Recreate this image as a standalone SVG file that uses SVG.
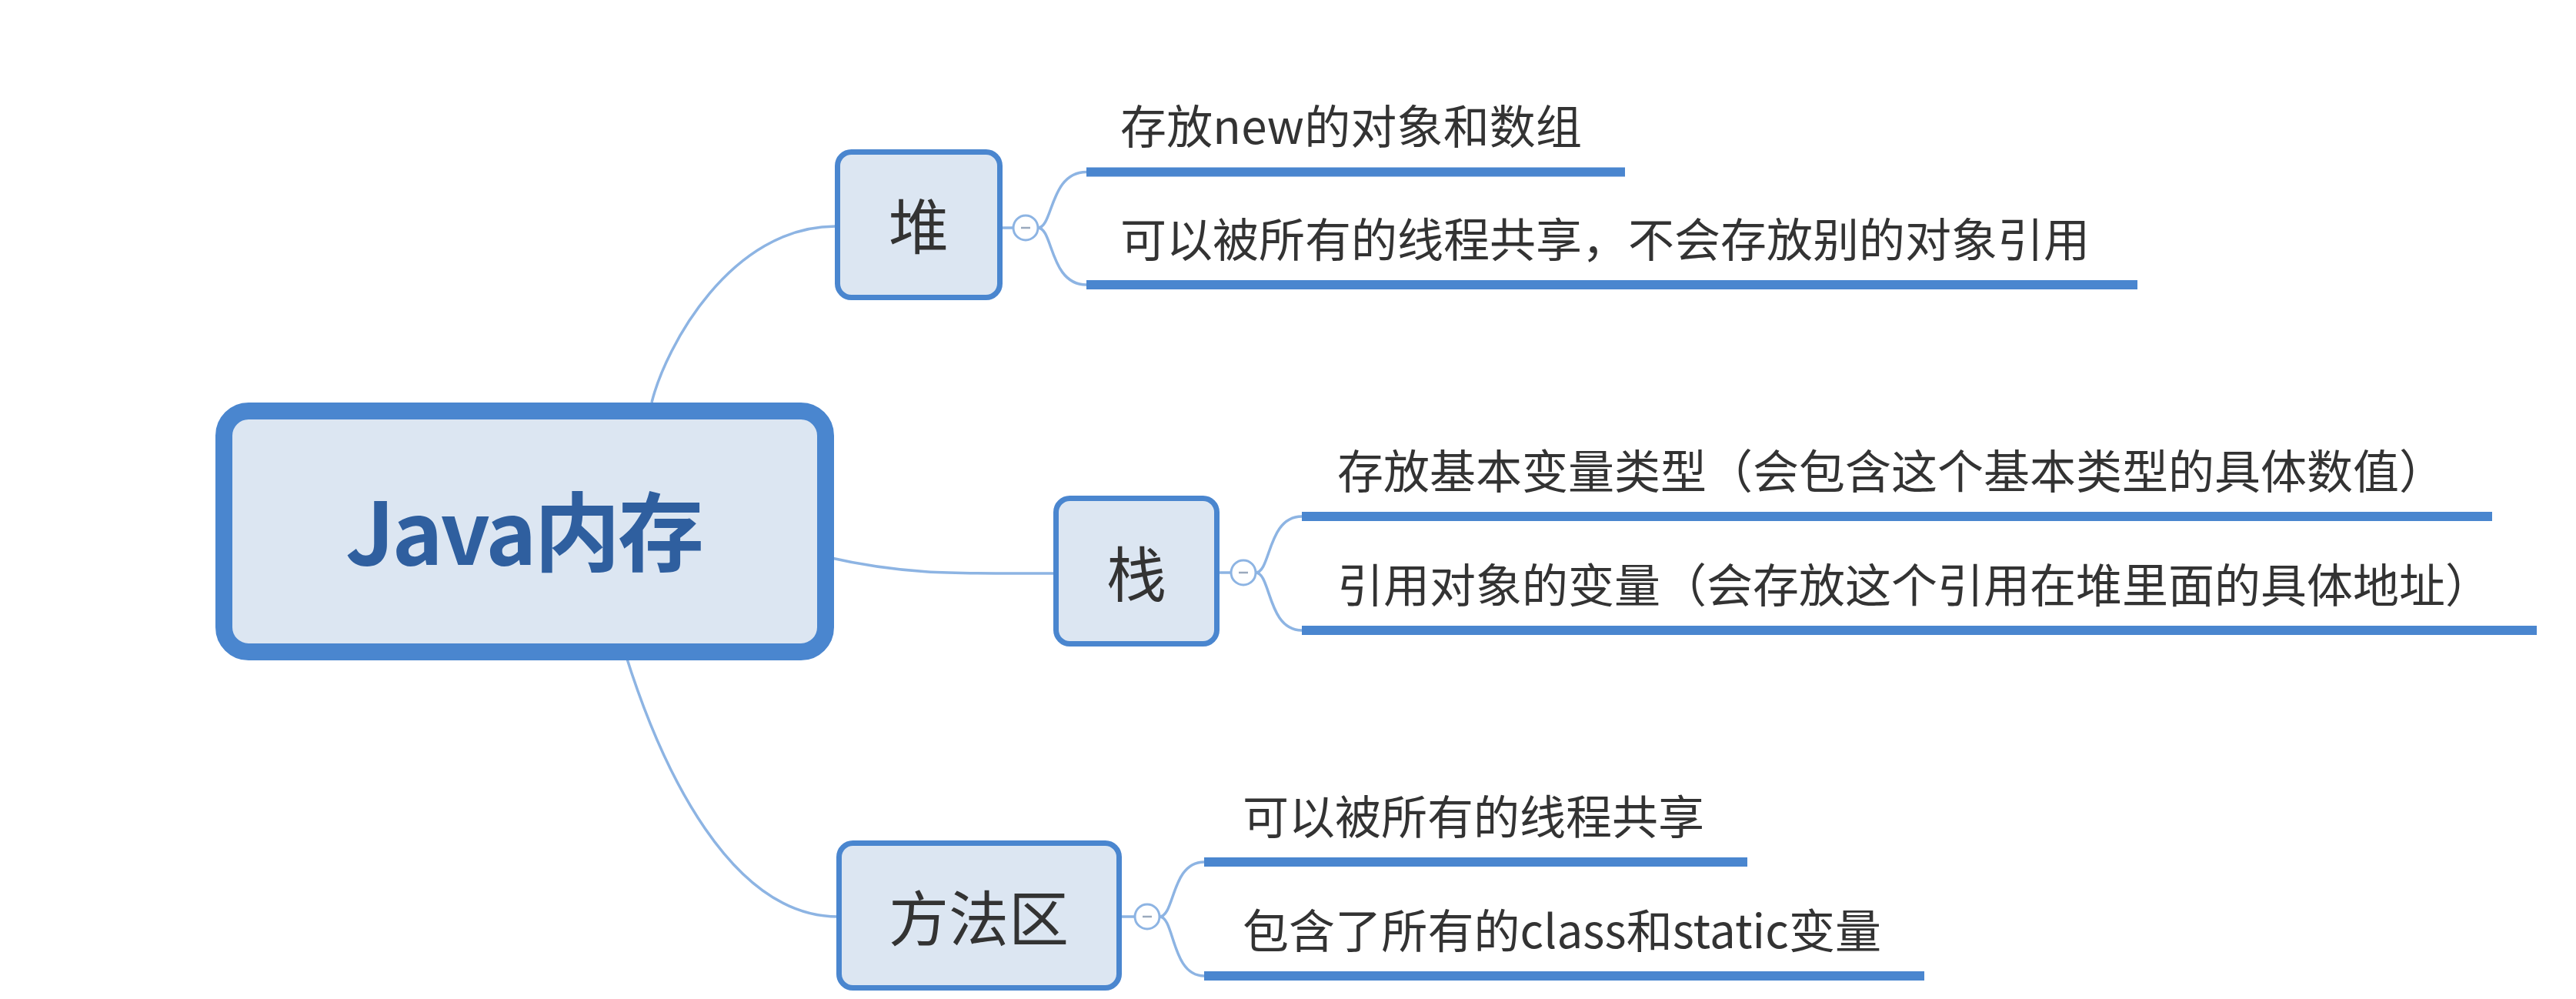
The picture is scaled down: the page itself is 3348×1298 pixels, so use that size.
<svg xmlns="http://www.w3.org/2000/svg" width="3348" height="1298" viewBox="0 0 3348 1298">
<style>
.conn{fill:none;stroke:#8db4e3;stroke-width:3.5}
.uline{stroke:#4a86cf;stroke-width:12;stroke-linecap:butt}
.node{fill:#dce6f2;stroke:#4a86cf;stroke-width:7}
.root{fill:#dce6f2;stroke:#4a86cf;stroke-width:22}
.lbl{font-family:"Noto Sans CJK SC","Noto Sans",sans-serif;font-size:78px;fill:#333333;text-anchor:middle}
.rlbl{font-family:"Noto Sans CJK SC","Noto Sans",sans-serif;font-size:112px;font-weight:bold;fill:#2f5f9f;text-anchor:middle}
.txt{font-family:"Noto Sans CJK SC","Noto Sans",sans-serif;font-size:60px;fill:#333333}
.tog{fill:#ffffff;stroke:#8db4e3;stroke-width:3}
.minus{stroke:#9aa9bd;stroke-width:2.5}
</style>
<rect x="0" y="0" width="3348" height="1298" fill="#ffffff"/>
<g id="connectors">
<path class="conn" d="M847,523 C865,450 950,294 1086,294"/>
<path class="conn" d="M1076,724 C1180,748 1250,745 1371,745"/>
<path class="conn" d="M813,850 C860,1000 950,1191 1089,1191"/>
<line class="conn" x1="1303" y1="296" x2="1317" y2="296"/>
<line class="conn" x1="1585" y1="744" x2="1600" y2="744"/>
<line class="conn" x1="1458" y1="1191" x2="1475" y2="1191"/>
<path class="conn" d="M1349,296 C1369,296 1364,223.5 1412,223.5"/>
<path class="conn" d="M1349,296 C1369,296 1364,370 1412,370"/>
<path class="conn" d="M1632,744 C1652,744 1647,671 1692,671"/>
<path class="conn" d="M1632,744 C1652,744 1647,819 1692,819"/>
<path class="conn" d="M1507,1191 C1527,1191 1522,1120 1565,1120"/>
<path class="conn" d="M1507,1191 C1527,1191 1522,1268 1565,1268"/>
</g>
<g id="root">
<rect class="root" x="291" y="534" width="782" height="313" rx="32"/>
<text class="rlbl" x="682" y="734" textLength="466">Java内存</text>
</g>
<g id="heap">
<rect class="node" x="1088.5" y="197.5" width="211" height="189" rx="18"/>
<text class="lbl" x="1194" y="324">堆</text>
<circle class="tog" cx="1333" cy="296" r="16"/>
<line class="minus" x1="1327" y1="296" x2="1339" y2="296"/>
</g>
<g id="heap-1">
<line class="uline" x1="1412" y1="223.5" x2="2112" y2="223.5"/>
<text class="txt" x="1456" y="187" textLength="600">存放new的对象和数组</text>
</g>
<g id="heap-2">
<line class="uline" x1="1412" y1="370" x2="2778" y2="370"/>
<text class="txt" x="1456" y="334">可以被所有的线程共享，不会存放别的对象引用</text>
</g>
<g id="stack">
<rect class="node" x="1372.5" y="647.5" width="209" height="189" rx="18"/>
<text class="lbl" x="1477" y="776">栈</text>
<circle class="tog" cx="1616" cy="744" r="16"/>
<line class="minus" x1="1610" y1="744" x2="1622" y2="744"/>
</g>
<g id="stack-1">
<line class="uline" x1="1692" y1="671" x2="3239" y2="671"/>
<text class="txt" x="1738" y="635">存放基本变量类型（会包含这个基本类型的具体数值）</text>
</g>
<g id="stack-2">
<line class="uline" x1="1692" y1="819" x2="3297" y2="819"/>
<text class="txt" x="1738" y="783">引用对象的变量（会存放这个引用在堆里面的具体地址）</text>
</g>
<g id="method">
<rect class="node" x="1090.5" y="1095.5" width="364" height="188" rx="18"/>
<text class="lbl" x="1272" y="1223">方法区</text>
<circle class="tog" cx="1491" cy="1191" r="16"/>
<line class="minus" x1="1485" y1="1191" x2="1497" y2="1191"/>
</g>
<g id="method-1">
<line class="uline" x1="1565" y1="1120" x2="2271" y2="1120"/>
<text class="txt" x="1615" y="1084">可以被所有的线程共享</text>
</g>
<g id="method-2">
<line class="uline" x1="1565" y1="1268" x2="2501" y2="1268"/>
<text class="txt" x="1615" y="1232" textLength="830">包含了所有的class和static变量</text>
</g>
</svg>
